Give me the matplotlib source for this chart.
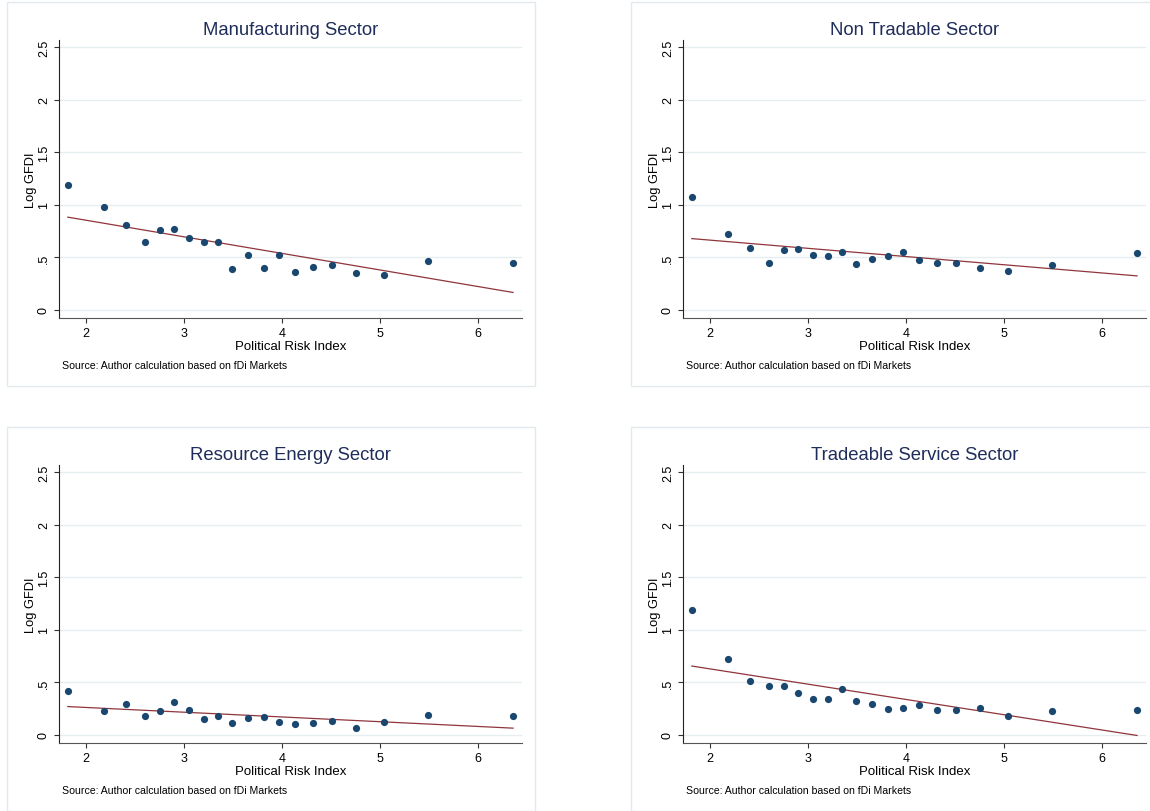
import numpy as np
import matplotlib
matplotlib.use('Agg')
import matplotlib.pyplot as plt
from matplotlib.patches import Rectangle

plt.rcParams['font.family'] = ['Liberation Sans', 'DejaVu Sans']

# political risk index (same bins in every panel)
risk = [1.814, 2.186, 2.404, 2.600, 2.752, 2.896, 3.047, 3.201, 3.349, 3.493,
        3.651, 3.812, 3.967, 4.135, 4.314, 4.514, 4.750, 5.045, 5.487, 6.358]

manufacturing = [1.187, 0.978, 0.804, 0.649, 0.763, 0.772, 0.687, 0.646, 0.646, 0.389,
                 0.525, 0.396, 0.525, 0.364, 0.405, 0.424, 0.348, 0.329, 0.462, 0.446]
non_tradable = [1.073, 0.725, 0.585, 0.449, 0.566, 0.582, 0.525, 0.509, 0.551, 0.440,
                0.481, 0.509, 0.547, 0.475, 0.449, 0.443, 0.399, 0.373, 0.430, 0.538]
resource_energy = [0.415, 0.228, 0.294, 0.184, 0.228, 0.310, 0.241, 0.155, 0.184, 0.114,
                   0.158, 0.174, 0.127, 0.101, 0.117, 0.133, 0.063, 0.120, 0.187, 0.177]
tradeable_service = [1.193, 0.725, 0.516, 0.462, 0.465, 0.399, 0.339, 0.342, 0.440, 0.323,
                     0.291, 0.250, 0.256, 0.282, 0.241, 0.234, 0.256, 0.184, 0.231, 0.234]

titles = ['Manufacturing Sector', 'Non Tradable Sector',
          'Resource Energy Sector', 'Tradeable Service Sector']
series = [manufacturing, non_tradable, resource_energy, tradeable_service]

yticks = [0, 0.5, 1, 1.5, 2, 2.5]
ytick_labels = ['0', '.5', '1', '1.5', '2', '2.5']
xticks = [2, 3, 4, 5, 6]

W, H = 1150, 812
fig = plt.figure(figsize=(W / 100, H / 100), dpi=100)
fig.patch.set_facecolor('white')

navy = '#1a476f'
maroon = '#90353b'
title_col = '#1f2d5a'
grid_col = '#e6eef0'
frame_col = '#e2e9ec'

# panel offsets in pixels (left of frame, top of frame)
offsets = [(7, 3), (631, 3), (7, 428), (631, 428)]

x = np.array(risk)
for (fx, fy), title, vals in zip(offsets, titles, series):
    # outer light frame around each graph
    fig.patches.append(Rectangle((fx / W, 1 - (fy + 384) / H), 528 / W, 384 / H,
                                 transform=fig.transFigure, fill=False,
                                 edgecolor=frame_col, lw=1))
    left = fx + 52
    top = fy + 38
    ax = fig.add_axes([left / W, 1 - (top + 278.3) / H, 463 / W, 278.3 / H])
    ax.set_xlim(1.724, 6.449)
    ax.set_ylim(-0.079, 2.567)

    y = np.array(vals)
    ax.set_yticks(yticks)
    ax.set_yticklabels(ytick_labels, rotation=90, va='center')
    ax.set_xticks(xticks)
    for t in yticks:
        ax.axhline(t, color=grid_col, lw=1, zorder=0)

    ax.scatter(x, y, s=27, color=navy, zorder=3, linewidths=0)
    slope, icpt = np.polyfit(x, y, 1)
    ax.plot([x.min(), x.max()], [icpt + slope * x.min(), icpt + slope * x.max()],
            color=maroon, lw=0.9, zorder=2)

    for s in ['top', 'right']:
        ax.spines[s].set_visible(False)
    ax.spines['left'].set_color('#222222')
    ax.spines['bottom'].set_color('#555555')
    ax.tick_params(axis='both', labelsize=9, length=3.5, width=0.8, color='#333333')
    ax.tick_params(axis='y', pad=3)
    ax.tick_params(axis='x', pad=2.5)

    ax.set_title(title, fontsize=13.3, color=title_col, pad=4.6)
    ax.set_xlabel('Political Risk Index', fontsize=9.5, labelpad=1)
    ax.set_ylabel('Log GFDI', fontsize=9.3, labelpad=1)
    ax.text(3 / 463, -46.7 / 278.3, 'Source: Author calculation based on fDi Markets',
            transform=ax.transAxes, fontsize=7.6, va='center', ha='left')

fig.savefig('out.png', dpi=100)
